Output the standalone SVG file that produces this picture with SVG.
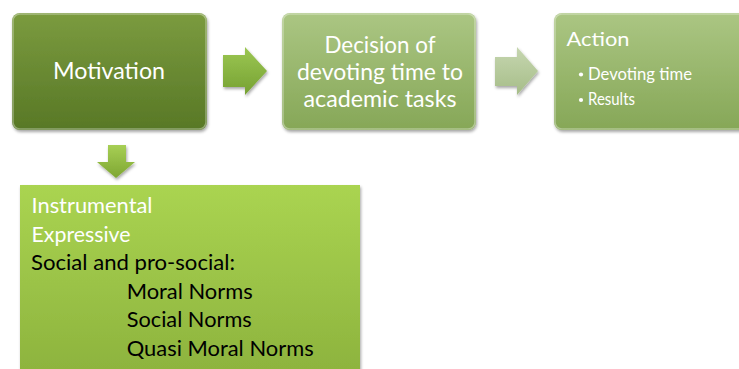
<svg xmlns="http://www.w3.org/2000/svg" width="739" height="369" viewBox="0 0 739 369">
<defs>
<linearGradient id="g1" x1="0" y1="0" x2="0" y2="1"><stop offset="0" stop-color="#7b9b3f"/><stop offset="1" stop-color="#587826"/></linearGradient>
<linearGradient id="g2" x1="0" y1="0" x2="0" y2="1"><stop offset="0" stop-color="#abc683"/><stop offset="1" stop-color="#86a757"/></linearGradient>
<linearGradient id="g4" x1="0" y1="0" x2="0" y2="1"><stop offset="0" stop-color="#aad451"/><stop offset="1" stop-color="#8cb23d"/></linearGradient>
<linearGradient id="ga1" x1="0" y1="0" x2="0" y2="1"><stop offset="0" stop-color="#9cc753"/><stop offset="1" stop-color="#76a132"/></linearGradient>
<linearGradient id="ga2" x1="0" y1="0" x2="0" y2="1"><stop offset="0" stop-color="#c6d6b0"/><stop offset="1" stop-color="#a6bd88"/></linearGradient>
<linearGradient id="ga3" x1="0" y1="0" x2="0" y2="1"><stop offset="0" stop-color="#a7cf55"/><stop offset="1" stop-color="#7ea632"/></linearGradient>
<filter id="sh" x="-10%" y="-10%" width="120%" height="130%"><feDropShadow dx="1" dy="2" stdDeviation="1.5" flood-color="#000" flood-opacity="0.35"/></filter>
</defs>
<style>
text{font-family:Lato,"Open Sans","Liberation Sans",sans-serif}
.w{fill:#ffffff}
.k{fill:#000000}
.edge{fill:none;stroke:#ffffff;stroke-opacity:0.35;stroke-width:1.5}
</style>
<g id="motivation">
<rect x="12" y="13" width="195" height="117" rx="8" fill="url(#g1)" filter="url(#sh)"/>
<rect x="13" y="14" width="193" height="115" rx="7" class="edge"/>
<text class="w" x="109" y="78.5" font-size="24" text-anchor="middle" textLength="112" lengthAdjust="spacingAndGlyphs">Motivation</text>
</g>
<g id="decision">
<rect x="282" y="13" width="194" height="117" rx="8" fill="url(#g2)" filter="url(#sh)"/>
<rect x="283" y="14" width="192" height="115" rx="7" class="edge"/>
<text class="w" x="380" y="52.5" font-size="24" text-anchor="middle" textLength="111" lengthAdjust="spacingAndGlyphs">Decision of</text>
<text class="w" x="380" y="80" font-size="24" text-anchor="middle" textLength="166" lengthAdjust="spacingAndGlyphs">devoting time to</text>
<text class="w" x="380" y="107" font-size="24" text-anchor="middle" textLength="153" lengthAdjust="spacingAndGlyphs">academic tasks</text>
</g>
<g id="action">
<rect x="554" y="13" width="200" height="117" rx="8" fill="url(#g2)" filter="url(#sh)"/>
<rect x="555" y="14" width="198" height="115" rx="7" class="edge"/>
<text class="w" x="566.5" y="46" font-size="20" textLength="63" lengthAdjust="spacingAndGlyphs">Action</text>
<circle class="w" cx="581" cy="74.5" r="2.1"/>
<text class="w" x="588" y="79.5" font-size="17" textLength="104" lengthAdjust="spacingAndGlyphs">Devoting time</text>
<circle class="w" cx="581" cy="100" r="2.1"/>
<text class="w" x="588" y="105" font-size="17" textLength="47" lengthAdjust="spacingAndGlyphs">Results</text>
</g>
<g id="types">
<rect x="20" y="185" width="340" height="195" fill="url(#g4)" filter="url(#sh)"/>
<text class="w" x="31.5" y="212.7" font-size="21" textLength="121" lengthAdjust="spacingAndGlyphs">Instrumental</text>
<text class="w" x="31.5" y="241.7" font-size="21" textLength="99" lengthAdjust="spacingAndGlyphs">Expressive</text>
<text class="k" x="31" y="270" font-size="21" textLength="204" lengthAdjust="spacingAndGlyphs">Social and pro-social:</text>
<text class="k" x="126.7" y="298.5" font-size="21" textLength="126" lengthAdjust="spacingAndGlyphs">Moral Norms</text>
<text class="k" x="126.7" y="327" font-size="21" textLength="125" lengthAdjust="spacingAndGlyphs">Social Norms</text>
<text class="k" x="126.7" y="356" font-size="21" textLength="187" lengthAdjust="spacingAndGlyphs">Quasi Moral Norms</text>
</g>
<g id="connectors">
<polygon points="223,55 245,55 245,47 267,71 245,95 245,87 223,87" fill="url(#ga1)" filter="url(#sh)"/>
<polygon points="495,57 517,57 517,47 538,71 517,95 517,86 495,86" fill="url(#ga2)" filter="url(#sh)"/>
<polygon points="108,145 126,145 126,162 135,162 116,178 97,162 108,162" fill="url(#ga3)" filter="url(#sh)"/>
</g>
</svg>
